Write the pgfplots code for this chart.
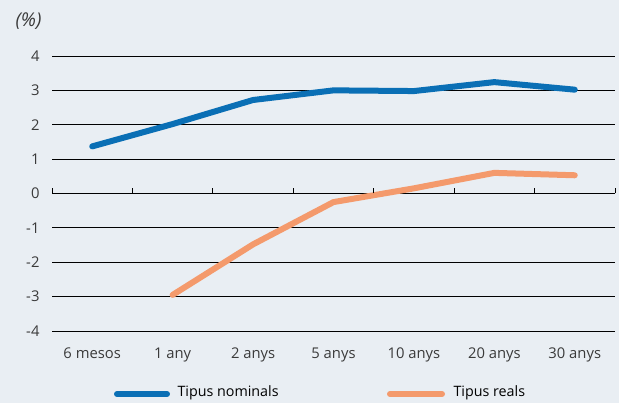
\documentclass[border=0pt]{standalone}
\usepackage{pgfplots}
\pgfplotsset{compat=1.18}
\usepackage{fontspec}
\setmainfont{Open Sans}
\definecolor{bg}{HTML}{E9EEF3}
\definecolor{nomblue}{HTML}{0A6FB5}
\definecolor{realorange}{HTML}{F49A6C}
\definecolor{txt}{HTML}{3A3A3A}
\begin{document}
\begin{tikzpicture}[x=1pt,y=1pt]
\fill[bg] (0,0) rectangle (619,403);
\useasboundingbox (0,0) rectangle (619,403);
\begin{axis}[
  at={(52pt,72pt)}, anchor=south west,
  scale only axis, width=563pt, height=275pt,
  xmin=-0.5, xmax=6.5, ymin=-4, ymax=4,
  axis line style={draw=none},
  ymajorgrids, grid style={black, line width=0.8pt},
  major tick length=0pt,
  ytick={-4,-3,-2,-1,0,1,2,3,4},
  xtick={0,1,2,3,4,5,6},
  xticklabels={6 mesos,1 any,2 anys,5 anys,10 anys,20 anys,30 anys},
  tick label style={font=\fontsize{14.8}{17}\selectfont, text=txt},
  /pgf/number format/assume math mode=true,
  yticklabel style={xshift=-9pt},
  xticklabel style={yshift=-13pt},
  clip=false,
]
\addplot[nomblue, line width=6pt, line cap=round, line join=round] coordinates {
(0,1.37) (1,2.02) (2,2.72) (3,3.0) (4,2.98) (5,3.24) (6,3.02)};
\addplot[realorange, line width=6pt, line cap=round, line join=round] coordinates {
(1,-2.95) (2,-1.48) (3,-0.25) (4,0.15) (5,0.6) (6,0.53)};
\pgfplotsinvokeforeach{-0.5,0.5,1.5,2.5,3.5,4.5,5.5,6.5}{
  \draw[black, line width=0.8pt] (axis cs:#1,0) -- ++(0pt,5pt);
}
\end{axis}
\node[anchor=west, font=\fontsize{19}{22}\selectfont\itshape, text=txt] at (12,382) {(\%)};
\draw[nomblue, line width=6pt, line cap=round] (117,9) -- (167,9);
\node[anchor=west, font=\fontsize{14.3}{17}\selectfont, text=black] at (174,10) {Tipus nominals};
\draw[realorange, line width=6pt, line cap=round] (390,9) -- (442,9);
\node[anchor=west, font=\fontsize{14.3}{17}\selectfont, text=black] at (450,10) {Tipus reals};
\end{tikzpicture}
\end{document}
